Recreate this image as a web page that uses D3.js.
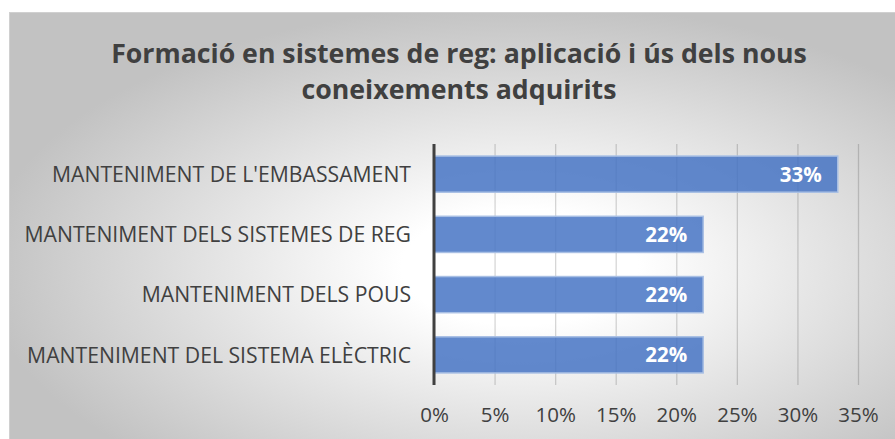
<!DOCTYPE html>
<html>
<head>
<meta charset="utf-8">
<script src="https://cdn.jsdelivr.net/npm/d3@7"></script>
<style>
  html, body { margin: 0; padding: 0; background: #fff; }
  svg { display: block; }
</style>
</head>
<body>
<div class="chart"></div>
<script>
const titleLines = ['Formació en sistemes de reg: aplicació i ús dels nous', 'coneixements adquirits'];
const categories = [
  "MANTENIMENT DE L'EMBASSAMENT",
  'MANTENIMENT DELS SISTEMES DE REG',
  'MANTENIMENT DELS POUS',
  'MANTENIMENT DEL SISTEMA ELÈCTRIC',
];
const values = [0.3333, 0.2222, 0.2222, 0.2222];
const ticks = [0, 0.05, 0.1, 0.15, 0.2, 0.25, 0.3, 0.35];

const TEXT_COLOR = '#404040';
const FONT = "'Open Sans', sans-serif";
const width = 895;
const height = 439;

const svg = d3
  .select('.chart')
  .append('svg')
  .attr('width', width)
  .attr('height', height);

// radial grey -> white background of the chart area
const grad = svg
  .append('defs')
  .append('radialGradient')
  .attr('id', 'bg')
  .attr('cx', '0.57')
  .attr('cy', '0.58')
  .attr('r', '0.6');
grad.append('stop').attr('offset', '0.22').attr('stop-color', '#ffffff');
grad.append('stop').attr('offset', '1').attr('stop-color', '#c2c2c2');

svg
  .append('rect')
  .attr('x', 9.5)
  .attr('y', 12.5)
  .attr('width', width)
  .attr('height', height)
  .style('fill', 'url(#bg)')
  .style('stroke', '#d0d0d0');

const x = d3.scaleLinear().domain([0, 0.35]).range([434, 858]);
const y = d3
  .scaleBand()
  .domain(categories)
  .range([144, 385])
  .paddingInner(0.4)
  .paddingOuter(0.2);

// title
svg
  .append('text')
  .attr('text-anchor', 'middle')
  .style('font-family', FONT)
  .style('font-weight', 'bold')
  .style('font-size', '26.7px')
  .style('fill', TEXT_COLOR)
  .selectAll('tspan')
  .data(titleLines)
  .enter()
  .append('tspan')
  .attr('x', 459)
  .attr('y', (d, i) => 63 + i * 36)
  .text(d => d);

// gridlines + tick labels
const xAxis = svg
  .append('g')
  .attr('transform', 'translate(0, 385)')
  .call(
    d3
      .axisBottom(x)
      .tickValues(ticks)
      .tickSize(-(385 - 144))
      .tickPadding(22)
      .tickFormat(d3.format('.0%'))
  );
xAxis.select('.domain').remove();
xAxis.selectAll('.tick line').style('stroke', 'rgba(0,0,0,0.16)').style('stroke-width', 1.3);
xAxis
  .selectAll('.tick text')
  .style('font-family', FONT)
  .style('font-size', '20.5px')
  .style('fill', TEXT_COLOR);

// bars
const g = svg
  .selectAll('.bar')
  .data(categories.map((c, i) => ({ name: c, value: values[i] })))
  .enter()
  .append('g')
  .attr('class', 'bar');

g.append('rect')
  .attr('x', x(0))
  .attr('y', d => y(d.name))
  .attr('width', d => x(d.value) - x(0))
  .attr('height', y.bandwidth())
  .style('fill', 'rgba(68,114,196,0.84)')
  .style('stroke', '#a8bfe4')
  .style('stroke-width', 1.5);

g.append('text')
  .attr('x', d => x(d.value) - 16)
  .attr('y', d => y(d.name) + y.bandwidth() / 2)
  .attr('dy', '0.36em')
  .attr('text-anchor', 'end')
  .style('font-family', FONT)
  .style('font-weight', 'bold')
  .style('font-size', '20.5px')
  .style('fill', '#ffffff')
  .text(d => d3.format('.0%')(d.value));

// category labels
g.append('text')
  .attr('x', 411)
  .attr('y', d => y(d.name) + y.bandwidth() / 2)
  .attr('dy', '0.36em')
  .attr('text-anchor', 'end')
  .style('font-family', FONT)
  .style('font-size', '21.2px')
  .style('fill', TEXT_COLOR)
  .text(d => d.name);

// vertical category axis
svg
  .append('line')
  .attr('x1', x(0))
  .attr('x2', x(0))
  .attr('y1', 144)
  .attr('y2', 385)
  .style('stroke', '#404040')
  .style('stroke-width', 3);
</script>
</body>
</html>
